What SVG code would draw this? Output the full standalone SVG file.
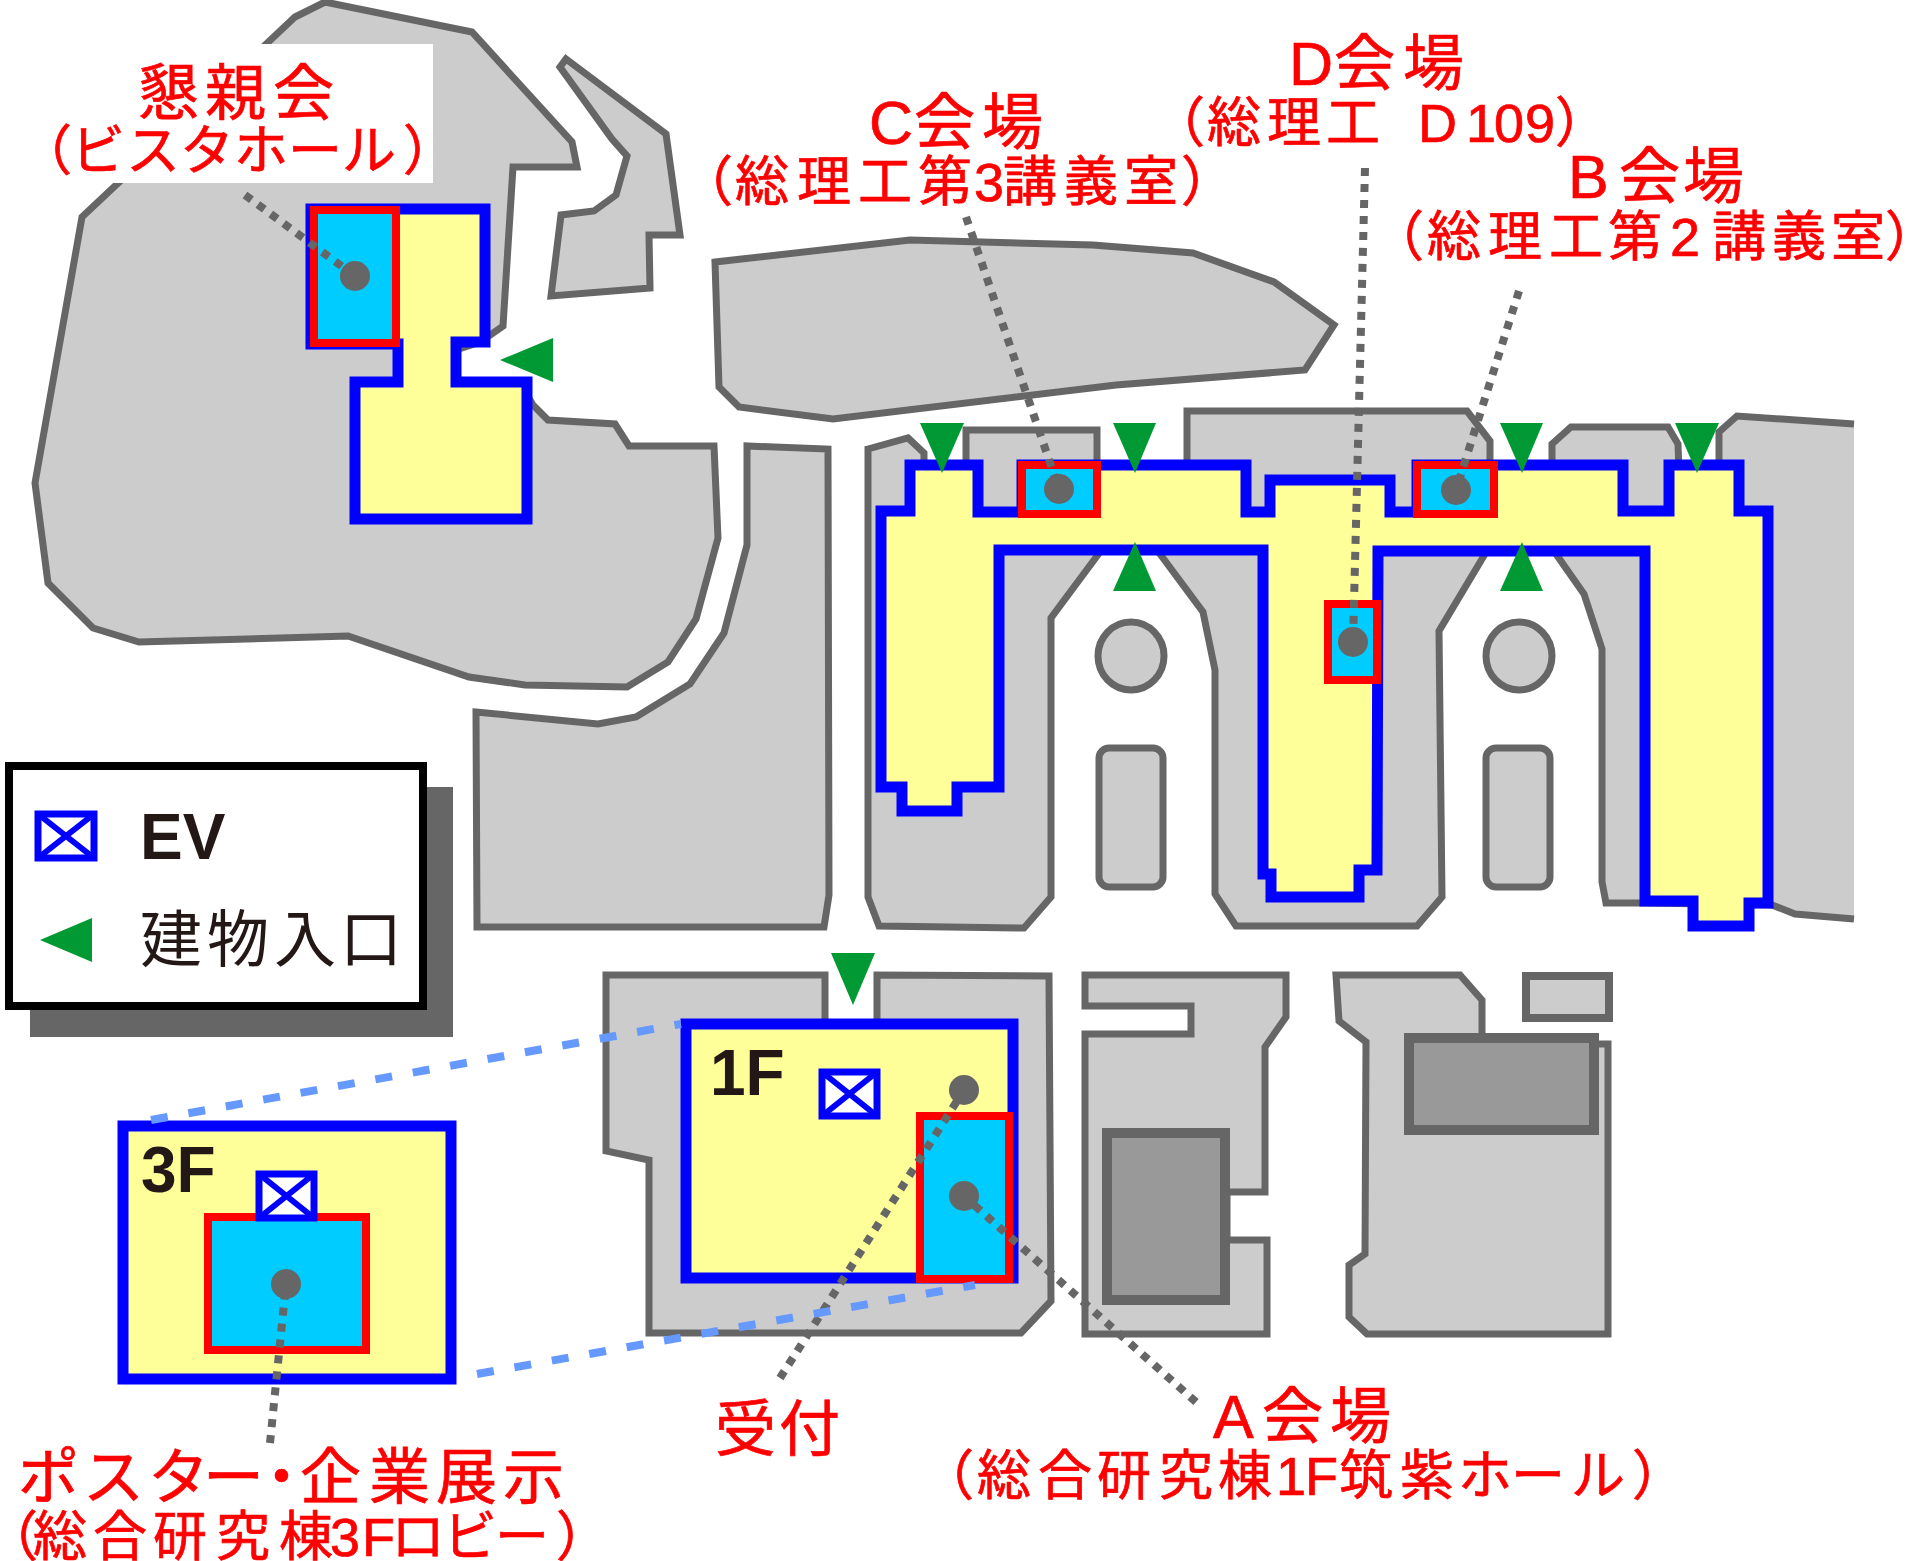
<svg xmlns="http://www.w3.org/2000/svg" width="1909" height="1561" viewBox="0 0 1909 1561">
<style>
.b{fill:#ccc;stroke:#666;stroke-width:7;stroke-linejoin:miter}
.d{fill:#999;stroke:#666;stroke-width:10}
.v{fill:#ff9;stroke:#00f;stroke-width:11}
.r{fill:#0cf;stroke:#f00;stroke-width:8}
.g{fill:#093}
.dot{fill:#666}
.ev{fill:#fff;stroke:#00f;stroke-width:7}
.evx{stroke:#00f;stroke-width:6;fill:none}
.dl{stroke:#666;stroke-width:8;stroke-dasharray:8 8;fill:none}
.dh{stroke:#69f;stroke-width:8;stroke-dasharray:17 21;fill:none}
text{font-family:"Liberation Sans","Noto Sans CJK JP",sans-serif}
.t1{fill:#f00;stroke:#f00;stroke-width:.7;font-size:61px}
.t2{fill:#f00;stroke:#f00;stroke-width:.7;font-size:54px}
.k{fill:#231815}
.kb{font-weight:bold;font-size:64px}
.p{font-feature-settings:"palt"}
</style>
<rect width="1909" height="1561" fill="#fff"/>
<g id="buildings">
<polygon class="b" id="b-vista" points="295,17 325,2 472,32 572,142 577,167 513,167 503,326 480,342 456,350 456,385 527,395 533,405 548,420 615,424 629,446 714,446 718,538 696,619 668,662 627,687 525,685 469,677 348,636 139,642 93,628 48,583 35,483 82,217"/>
<polygon class="b" id="b-north" points="566,59 666,134 680,235 649,235 650,288 551,296 561,215 594,211 616,195 627,156 612,139 560,67"/>
<polygon class="b" id="b-long" points="715,262 910,240 1093,245 1193,253 1274,282 1334,325 1305,370 1116,385 833,419 739,407 719,387"/>
<polygon class="b" id="b-south" points="476,712 598,724 636,717 690,684 724,633 747,545 747,446 828,449 829,895 824,927 477,927"/>
<polygon class="b" id="b-left" points="868,449 908,438 924,453 924,480 966,480 966,430 1097,430 1097,480 1100,552 1051,618 1051,897 1024,928 879,926 868,897"/>
<polygon class="b" id="b-center" points="1187,411 1467,411 1490,441 1490,500 1485,554 1439,631 1442,897 1417,926 1236,926 1215,894 1215,670 1203,612 1160,554 1187,500"/>
<path class="b" id="b-right" d="M1854,919 L1795,914 1772,905 1644,903 1606,903 1602,882 1602,649 1584,594 1556,554 1552,500 1552,444 1571,427 1668,427 1678,444 1680,500 1719,500 1719,432 1737,416 1854,424"/>
<ellipse class="b" id="b-c1" cx="1131" cy="656" rx="33" ry="34"/>
<ellipse class="b" id="b-c2" cx="1519" cy="656" rx="33" ry="34"/>
<rect class="b" id="b-r1" x="1099" y="748" width="64" height="139" rx="10"/>
<rect class="b" id="b-r2" x="1486" y="748" width="64" height="139" rx="10"/>
<polygon class="b" id="b-sogo" points="606,975 825,975 825,1030 877,1030 877,975 1049,976 1051,1301 1021,1333 649,1333 649,1160 606,1151"/>
<polygon class="b" id="b-s2" points="1085,975 1286,975 1286,1017 1265,1047 1265,1192 1227,1192 1227,1240 1267,1240 1267,1334 1085,1334 1085,1034 1191,1034 1191,1006 1085,1006"/>
<rect class="d" id="b-s2d" x="1107" y="1133" width="118" height="167"/>
<polygon class="b" id="b-s3" points="1336,975 1460,975 1482,1000 1482,1044 1608,1044 1608,1334 1367,1334 1349,1317 1349,1265 1365,1254 1366,1042 1339,1021"/>
<rect class="d" id="b-s3d" x="1409" y="1038" width="185" height="92"/>
<rect class="b" id="b-s4" x="1526" y="976" width="83" height="42" style="stroke-width:8"/>
</g>
<g id="node-vista">
<polygon class="v" points="311,209 485,209 485,342 456,342 456,382 527,382 527,519 355,519 355,382 398,382 398,344 311,344"/>
<rect class="r" x="314" y="210" width="82" height="133"/>
<circle class="dot" cx="355" cy="276" r="15"/>
</g>
<g id="node-riko">
<polygon class="v" points="910,465 978,465 978,512 1022,512 1022,465 1246,465 1246,512 1270,512 1270,480 1390,480 1390,512 1417,512 1417,465 1623,465 1623,511 1669,511 1669,465 1739,465 1739,511 1768,511 1768,903 1749,903 1749,926 1693,926 1693,901 1645,901 1645,551 1378,551 1377,870 1359,870 1359,897 1271,897 1271,874 1263,874 1263,550 999,550 999,787 957,787 957,811 902,811 902,787 881,787 881,511 910,511"/>
</g>
<g id="node-c"><rect class="r" x="1022" y="465" width="75" height="49"/><circle class="dot" cx="1059" cy="489" r="15"/></g>
<g id="node-b"><rect class="r" x="1417" y="465" width="77" height="49"/><circle class="dot" cx="1456" cy="490" r="15"/></g>
<g id="node-d"><rect class="r" x="1328" y="604" width="49" height="76"/><circle class="dot" cx="1353" cy="642" r="15"/></g>
<g id="node-3f">
<rect class="v" x="123" y="1126" width="328" height="253"/>
<rect class="r" x="208" y="1217" width="158" height="133"/>
<rect class="ev" x="259" y="1174" width="55" height="44"/>
<path class="evx" d="M259,1174 L314,1218 M314,1174 L259,1218"/>
<circle class="dot" cx="286" cy="1284" r="15"/>
<text class="k kb" x="141" y="1192">3F</text>
</g>
<g id="node-1f">
<rect class="v" x="686" y="1024" width="327" height="254"/>
<rect class="r" x="920" y="1116" width="89" height="163"/>
<rect class="ev" x="822" y="1072" width="55" height="44"/>
<path class="evx" d="M822,1072 L877,1116 M877,1072 L822,1116"/>
<circle class="dot" cx="964" cy="1090" r="15"/>
<circle class="dot" cx="964" cy="1196" r="15"/>
<text class="k kb" x="710" y="1095">1F</text>
</g>
<g id="entrances">
<polygon class="g" points="500,360 553,338 553,382"/>
<polygon class="g" points="920,423 964,423 942,473"/>
<polygon class="g" points="1113,423 1156,423 1135,473"/>
<polygon class="g" points="1500,423 1543,423 1522,473"/>
<polygon class="g" points="1675,423 1719,423 1697,473"/>
<polygon class="g" points="1135,542 1113,591 1156,591"/>
<polygon class="g" points="1522,542 1500,591 1543,591"/>
<polygon class="g" points="831,953 875,953 853,1005"/>
</g>
<g id="connectors">
<path class="dl" d="M245,195 L355,276"/>
<path class="dl" d="M966,217 L1059,489"/>
<path class="dl" d="M1365,168 L1353,642"/>
<path class="dl" d="M1519,291 L1456,490"/>
<path class="dl" d="M780,1378 L964,1090"/>
<path class="dl" d="M1196,1402 L964,1196"/>
<path class="dl" d="M270,1443 L286,1284"/>
<path class="dh" d="M151,1120 L681,1024"/>
<path class="dh" d="M477,1374 L975,1285"/>
</g>
<g id="legend">
<rect x="30" y="787" width="423" height="250" fill="#666"/>
<rect x="9" y="766" width="414" height="240" fill="#fff" stroke="#000" stroke-width="8"/>
<rect class="ev" x="38" y="814" width="56" height="44"/>
<path class="evx" d="M38,814 L94,858 M94,814 L38,858"/>
<text class="k kb" x="140" y="859">EV</text>
<polygon class="g" points="40,940 92,918 92,962"/>
<text class="k" y="962" font-size="62" x="140 207 274 340">建物入口</text>
</g>
<g id="labels">
<rect x="40" y="44" width="393" height="139" fill="#fff"/>
<text class="t1" y="115" x="138 205 273">懇親会</text>
<text class="t2" y="170" x="18 71 126 180 234 288 342 403">（ビスタホール）</text>
<text class="t1" y="144" x="869 914 982">C会場</text>
<text class="t2" y="201" x="679 735 797 858 918 974 1003 1064 1124 1181">（総理工第3講義室）</text>
<text class="t1" y="85" x="1289 1334 1403">D会場</text>
<text class="t2" y="142" x="1151 1207 1267 1326 1380 1418 1466 1494 1525 1555">（総理工 D109）</text>
<text class="t1" y="198" x="1568 1619 1683">B会場</text>
<text class="t2" y="256" x="1370 1427 1488 1549 1608 1670 1712 1772 1831">（総理工第2講義室<tspan class="p" x="1887">）</tspan></text>
<text class="t1" y="1438" x="1213 1262 1330">A会場</text>
<text class="t2" y="1495" x="920 977 1038 1097 1159 1218 1276 1305 1339 1400 1458 1511 1571 1632">（総合研究棟1F筑紫ホール）</text>
<text class="t1" y="1451" x="715 779">受付</text>
<text class="t1" y="1499" x="18 83 148 203 251 300 369 436 503">ポスター・企業展示</text>
<text class="t2" y="1556"><tspan class="p" x="9">（</tspan><tspan x="33 93 153 216 279 330 362 391 443 495 556">総合研究棟3Fロビー）</tspan></text>
</g>
</svg>
